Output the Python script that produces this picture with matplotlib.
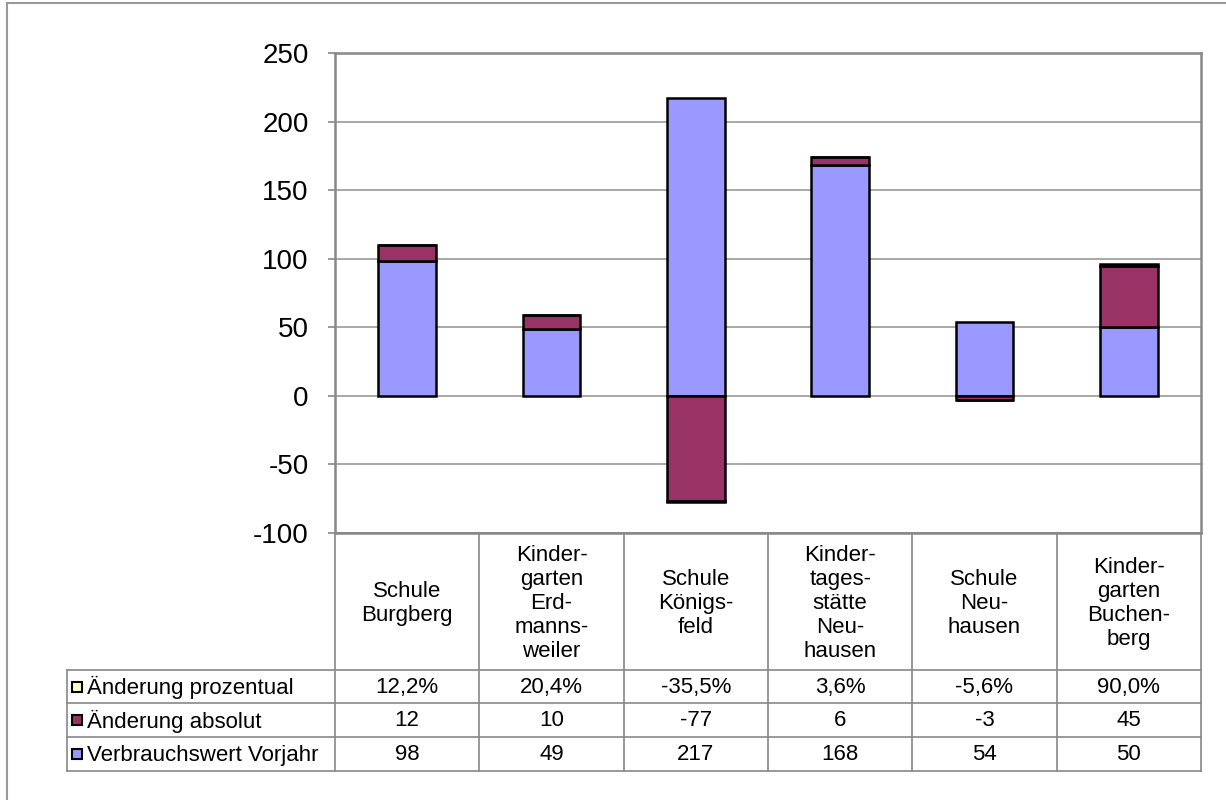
import numpy as np
import matplotlib
matplotlib.use("Agg")
import matplotlib.pyplot as plt
from matplotlib.patches import Rectangle

plt.rcParams['font.family'] = ['Liberation Sans', 'DejaVu Sans']
plt.rcParams['axes.unicode_minus'] = False

categories = ["Schule\nBurgberg", "Kinder-\ngarten\nErd-\nmanns-\nweiler", "Schule\nKönigs-\nfeld",
              "Kinder-\ntages-\nstätte\nNeu-\nhausen", "Schule\nNeu-\nhausen", "Kinder-\ngarten\nBuchen-\nberg"]
vorjahr = [98, 49, 217, 168, 54, 50]
absolut = [12, 10, -77, 6, -3, 45]
prozent = [0.122, 0.204, -0.355, 0.036, -0.056, 0.900]
prozent_labels = ["12,2%", "20,4%", "-35,5%", "3,6%", "-5,6%", "90,0%"]

series_names = ["Änderung prozentual", "Änderung absolut", "Verbrauchswert Vorjahr"]
col_blue = "#9999FF"
col_red = "#993366"
col_yellow = "#FFFFCC"

W, H = 1226, 800
fig = plt.figure(figsize=(W / 100, H / 100), dpi=100)

# outer frame (only top and left edges are visible)
fig.add_artist(plt.Line2D([7 / W, 7 / W], [0, (H - 3) / H], transform=fig.transFigure,
                          color="#999999", lw=1.5))
fig.add_artist(plt.Line2D([7 / W, 1], [(H - 3) / H, (H - 3) / H], transform=fig.transFigure,
                          color="#999999", lw=1.5))

x0, x1, ytop, ybot = 335, 1201, 53, 533
ax = fig.add_axes([x0 / W, (H - ybot) / H, (x1 - x0) / W, (ybot - ytop) / H])

x = np.arange(len(categories))
bw = 0.4
ek = dict(edgecolor="black", linewidth=1.8, zorder=3)

pos_base = np.zeros(len(x))
neg_base = np.zeros(len(x))


def stack(vals, color):
    vals = np.array(vals, dtype=float)
    bottoms = np.where(vals >= 0, pos_base, neg_base)
    ax.bar(x, vals, bw, bottom=bottoms, color=color, **ek)
    pos_base[:] = np.where(vals >= 0, pos_base + vals, pos_base)
    neg_base[:] = np.where(vals < 0, neg_base + vals, neg_base)


stack(vorjahr, col_blue)
stack(absolut, col_red)
stack(prozent, col_yellow)

ax.set_xlim(-0.5, len(x) - 0.5)
ax.set_ylim(-100, 250)
ax.set_yticks(range(-100, 251, 50))
ax.yaxis.grid(True, color="#999999", lw=1.2, zorder=0)
ax.set_axisbelow(True)
ax.set_xticks([])
ax.tick_params(axis="y", labelsize=20, length=5, width=1.2, color="#888888", pad=14)
for s in ax.spines.values():
    s.set_color("#888888")
    s.set_linewidth(1.8)

# data table below the chart
tab = fig.add_axes([0, 0, 1, 1], facecolor="none")
tab.set_xlim(0, W)
tab.set_ylim(H, 0)
tab.axis("off")

lc = "#888888"
cw = (x1 - x0) / len(categories)
row_y = [533, 670, 703, 737, 771]
lx = 67
fs = 16

# vertical lines
for i in range(len(categories) + 1):
    xx = x0 + i * cw
    tab.plot([xx, xx], [row_y[0], row_y[-1]], color=lc, lw=1.2)
tab.plot([lx, lx], [row_y[1], row_y[-1]], color=lc, lw=1.2)
# horizontal lines
tab.plot([x0, x1], [row_y[0], row_y[0]], color=lc, lw=1.2)
for yy in row_y[1:]:
    tab.plot([lx, x1], [yy, yy], color=lc, lw=1.2)

for i, c in enumerate(categories):
    tab.text(x0 + (i + 0.5) * cw, (row_y[0] + row_y[1]) / 2 + 2, c, ha="center", va="center",
             fontsize=fs, linespacing=1.2)

rows = [prozent_labels, [str(v) for v in absolut], [str(v) for v in vorjahr]]
colors = [col_yellow, col_red, col_blue]
for r, (vals, name, col) in enumerate(zip(rows, series_names, colors)):
    yc = (row_y[r + 1] + row_y[r + 2]) / 2
    tab.add_patch(Rectangle((lx + 5, yc - 5), 10, 10, facecolor=col, edgecolor="black", lw=1.5))
    tab.text(lx + 20, yc + 1, name, ha="left", va="center", fontsize=fs)
    for i, v in enumerate(vals):
        tab.text(x0 + (i + 0.5) * cw, yc + 1, v, ha="center", va="center", fontsize=fs)

fig.savefig("out.png", dpi=100)
